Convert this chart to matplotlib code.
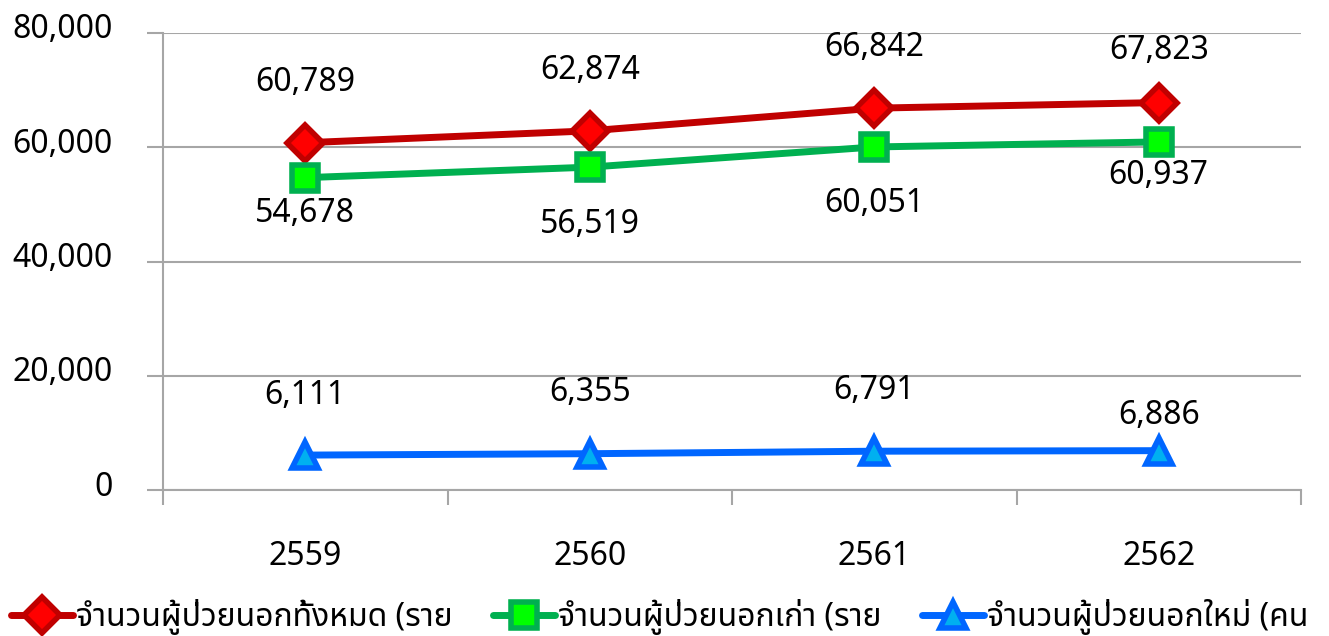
import matplotlib
matplotlib.use("Agg")
import matplotlib.pyplot as plt
import matplotlib.ticker as mticker
from matplotlib.lines import Line2D
from matplotlib.transforms import ScaledTranslation

plt.rcParams["font.family"] = ["Noto Sans Thai", "Noto Sans", "DejaVu Sans"]

years = ["2559", "2560", "2561", "2562"]
total_opd = [60789, 62874, 66842, 67823]
old_opd = [54678, 56519, 60051, 60937]
new_opd = [6111, 6355, 6791, 6886]
series_names = ["จำนวนผู้ป่วยนอกทั้งหมด (ราย", "จำนวนผู้ป่วยนอกเก่า (ราย", "จำนวนผู้ป่วยนอกใหม่ (คน"]

GRID = "#A6A6A6"
W, H = 1329, 636

fig = plt.figure(figsize=(W / 100, H / 100), dpi=100)
ax = fig.add_axes([163 / W, 1 - 490 / H, (1301 - 163) / W, (490 - 33) / H])

x = list(range(len(years)))
# (values, line colour, marker face, marker, size, label offsets in px)
styles = [
    (total_opd, "#C00000", "#FF0000", "D", 18, [60, 60, 61, 52]),
    (old_opd, "#00B050", "#00FF00", "s", 19, [-36, -57, -57, -34]),
    (new_opd, "#0066FF", "#00B0F0", "^", 19, [60, 61, 61, 35]),
]
handles = []
for (vals, lc, fc, mk, ms, offs), name in zip(styles, series_names):
    ln, = ax.plot(x, vals, color=lc, lw=5, marker=mk, ms=ms, mfc=fc, mec=lc,
                  mew=4, label=name, solid_capstyle="round", zorder=3)
    handles.append(ln)
    for xi, v, o in zip(x, vals, offs):
        ax.annotate(f"{v:,}", (xi, v), xytext=(0, o * 0.72), textcoords="offset points",
                    ha="center", va="center", fontsize=23, color="black")

ax.set_xlim(-0.5, 3.5)
ax.set_ylim(0, 80000)
ax.set_yticks([0, 20000, 40000, 60000, 80000])
ax.yaxis.set_major_formatter(mticker.FuncFormatter(lambda v, _: f"{v:,.0f}"))
ax.grid(axis="y", color=GRID, lw=1.5)
ax.set_axisbelow(True)

ax.set_xticks([-0.5, 0.5, 1.5, 2.5, 3.5])
ax.set_xticklabels([])
ax.set_xticks(x, minor=True)
ax.set_xticklabels(years, minor=True)
ax.tick_params(axis="x", which="major", length=11, width=1.5, color=GRID, direction="out")
ax.tick_params(axis="x", which="minor", length=0, pad=36, labelsize=23)
ax.tick_params(axis="y", length=11.5, width=1.5, color=GRID, pad=25, labelsize=23)

# y labels sit a little above their gridlines in the reference
lift = ScaledTranslation(0, 7 / 100, fig.dpi_scale_trans)
for lbl in ax.get_yticklabels():
    lbl.set_transform(lbl.get_transform() + lift)

for s in ["top", "right"]:
    ax.spines[s].set_visible(False)
for s in ["left", "bottom"]:
    ax.spines[s].set_color(GRID)
    ax.spines[s].set_linewidth(1.5)

# one legend per series so each entry sits where the reference puts it
for h, name, x0 in zip(handles, series_names, [11, 493, 922]):
    proxy = Line2D([], [], color=h.get_color(), lw=5, marker=h.get_marker(),
                   ms=h.get_markersize(), mfc=h.get_markerfacecolor(),
                   mec=h.get_markeredgecolor(), mew=4, solid_capstyle="round")
    fig.legend([proxy], [name], loc="center left",
               bbox_to_anchor=(x0 / W, 1 - 617 / H), frameon=False,
               fontsize=23, handlelength=1.95, handletextpad=0.08,
               borderpad=0, borderaxespad=0)

fig.savefig("out.png", dpi=100)
